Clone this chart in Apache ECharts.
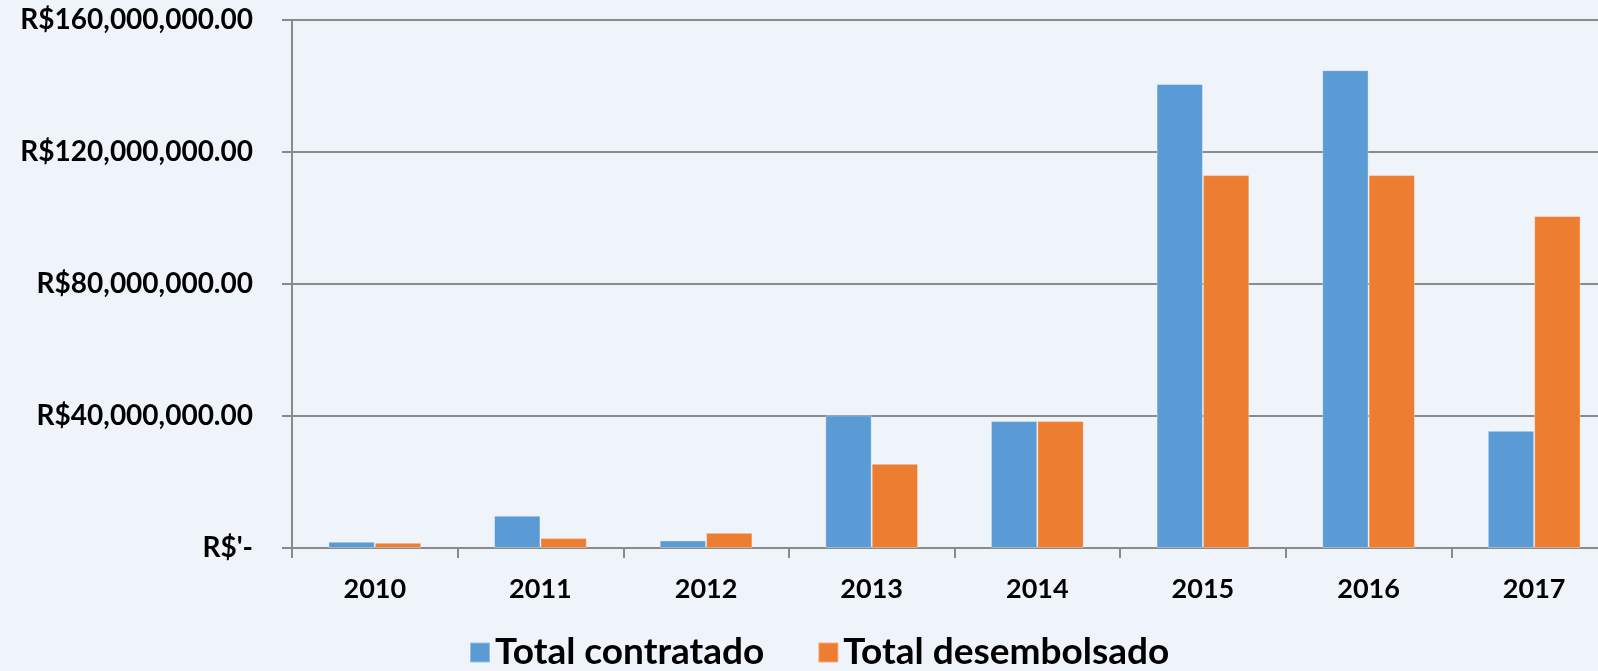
<!DOCTYPE html>
<html>
<head>
<meta charset="utf-8">
<script src="https://cdn.jsdelivr.net/npm/echarts@6/dist/echarts.min.js"></script>
<style>
	html, body { margin: 0; padding: 0; background: #eff4fb; }
	#bar { width: 1598px; height: 671px; }
</style>
</head>
<body>
<div id="bar"></div>
<script>
var years = ['2010', '2011', '2012', '2013', '2014', '2015', '2016', '2017'];
var contratado = [1.9e6, 9.8e6, 2.3e6, 40.2e6, 38.5e6, 140.6e6, 144.8e6, 35.5e6];
var desembolsado = [1.6e6, 3.0e6, 4.6e6, 25.5e6, 38.5e6, 113.0e6, 113.0e6, 100.6e6];
var yTicks = [0, 40e6, 80e6, 120e6, 160e6];
var seriesNames = ['Total contratado', 'Total desembolsado'];

var myChart = echarts.init(document.getElementById('bar'));

function moeda(v) {
	if (v === 0) return "R$'-";
	return 'R$' + v.toLocaleString('en-US', {minimumFractionDigits: 2, maximumFractionDigits: 2});
}

var font = 'Lato, "Liberation Sans", sans-serif';

option = {
	backgroundColor: '#eff4fb',
	color: ['#5b9bd5', '#ed7d31'],
	grid: {
		left: 292,
		width: 1325,
		top: 20,
		bottom: 123,
		outerBoundsMode: 'none'
	},
	legend: {
		left: 464,
		top: 629,
		itemWidth: 20,
		itemHeight: 20,
		itemGap: 53,
		icon: 'rect',
		textStyle: {
			fontFamily: font,
			fontWeight: 'bold',
			fontSize: 37,
			color: '#000'
		},
		data: seriesNames
	},
	xAxis: {
		type: 'category',
		data: years,
		axisLine: { lineStyle: { color: '#8a8a8a', width: 2 } },
		axisTick: { show: true, length: 10, lineStyle: { color: '#8a8a8a', width: 2 } },
		axisLabel: {
			margin: 28,
			fontFamily: font,
			fontWeight: 'bold',
			fontSize: 27,
			color: '#000'
		}
	},
	yAxis: {
		type: 'value',
		min: yTicks[0],
		max: yTicks[yTicks.length - 1],
		interval: yTicks[1] - yTicks[0],
		axisLine: { show: true, lineStyle: { color: '#8a8a8a', width: 2 } },
		axisTick: { show: true, length: 10, lineStyle: { color: '#8a8a8a', width: 2 } },
		splitLine: { lineStyle: { color: '#8a8a8a', width: 2 } },
		axisLabel: {
			margin: 39,
			formatter: moeda,
			fontFamily: font,
			fontWeight: 'bold',
			fontSize: 28,
			color: '#000'
		}
	},
	series: [
		{
			name: seriesNames[0],
			type: 'bar',
			data: contratado,
			barGap: '0%',
			barCategoryGap: '44%',
			itemStyle: { borderColor: 'rgba(255,255,255,0.35)', borderWidth: 1 }
		},
		{
			name: seriesNames[1],
			type: 'bar',
			data: desembolsado,
			barGap: '0%',
			barCategoryGap: '44%',
			itemStyle: { borderColor: 'rgba(255,255,255,0.35)', borderWidth: 1 }
		}
	]
};
myChart.setOption(option);
</script>
</body>
</html>
